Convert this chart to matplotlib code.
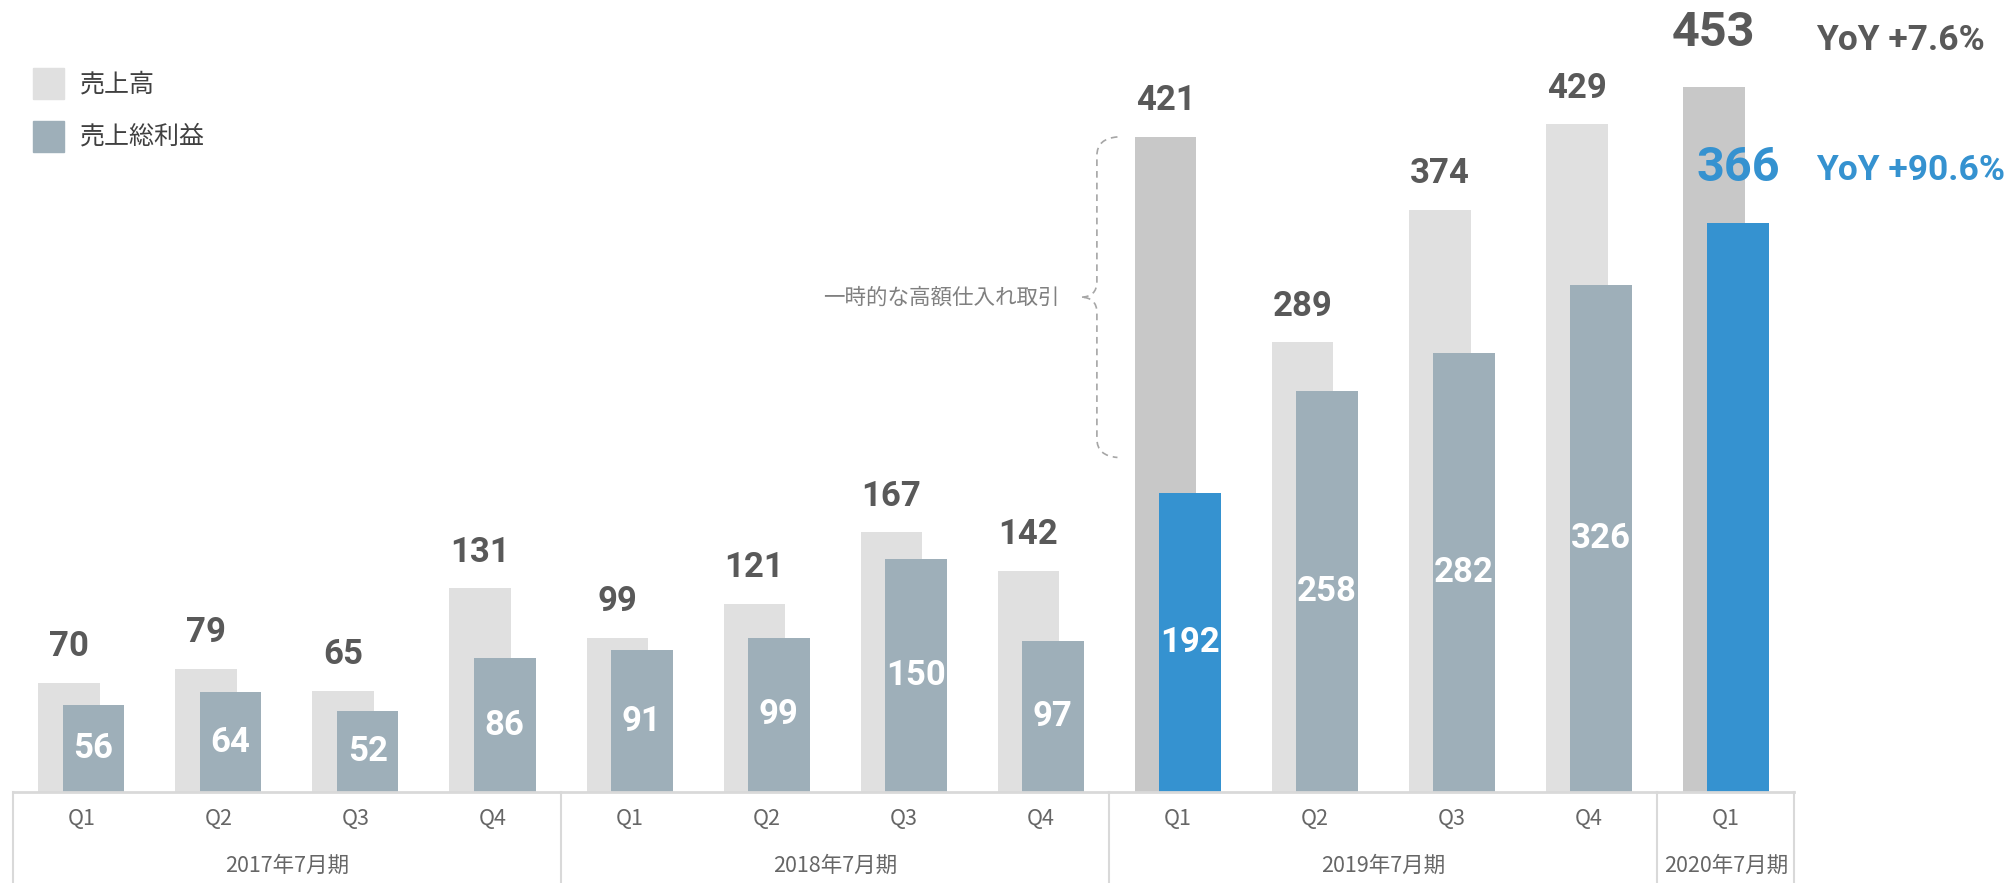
import matplotlib
matplotlib.use("Agg")
import matplotlib.pyplot as plt
from matplotlib.patches import Rectangle
from matplotlib.path import Path
from matplotlib.patches import PathPatch
from matplotlib.lines import Line2D
import matplotlib.transforms as mtransforms

plt.rcParams['font.family'] = ['Noto Sans CJK JP', 'DejaVu Sans']

quarters = ['Q1', 'Q2', 'Q3', 'Q4', 'Q1', 'Q2', 'Q3', 'Q4', 'Q1', 'Q2', 'Q3', 'Q4', 'Q1']
years = ['2017年7月期', '2018年7月期', '2019年7月期', '2020年7月期']
year_spans = [(0, 3), (4, 7), (8, 11), (12, 12)]
sales = [70, 79, 65, 131, 99, 121, 167, 142, 421, 289, 374, 429, 453]
gross = [56, 64, 52, 86, 91, 99, 150, 97, 192, 258, 282, 326, 366]
highlight = [8, 12]
yoy_sales = 'YoY +7.6%'
yoy_gross = 'YoY +90.6%'
note = '一時的な高額仕入れ取引'

W, H = 2004, 883
fig = plt.figure(figsize=(W / 100, H / 100), dpi=100)
ax = fig.add_axes([12.8 / W, 91 / H, (1794.5 - 12.8) / W, 792 / H])
ax.set_xlim(-0.5, 12.5)
ax.set_ylim(0, 792 / 1.556)
ax.axis('off')

num_font = ['Roboto', 'DejaVu Sans']
dark = '#595959'
blue = '#3592d0'

x = list(range(len(sales)))
bw = 0.45
off = 0.089
for i in x:
    c1 = '#c8c8c8' if i in highlight else '#e0e0e0'
    c2 = blue if i in highlight else '#9eafb9'
    ax.bar(i - off, sales[i], width=bw, color=c1, zorder=1)
    ax.bar(i + off, gross[i], width=bw, color=c2, zorder=2)
    if i == 12:
        ax.annotate(str(sales[i]), (i - off, sales[i]), xytext=(0, 39), textcoords='offset points',
                    ha='center', va='center', fontsize=35, fontweight='bold', color=dark, family=num_font)
        ax.annotate(str(gross[i]), (i + off, gross[i]), xytext=(0, 39), textcoords='offset points',
                    ha='center', va='center', fontsize=35, fontweight='bold', color=blue, family=num_font)
    else:
        ax.annotate(str(sales[i]), (i - off, sales[i]), xytext=(0, 26), textcoords='offset points',
                    ha='center', va='center', fontsize=25, fontweight='bold', color=dark, family=num_font)
        ax.text(i + off, gross[i] / 2, str(gross[i]), ha='center', va='center', fontsize=25,
                fontweight='bold', color='white', family=num_font, zorder=3)

# category axis box
tr = mtransforms.blended_transform_factory(ax.transData, fig.transFigure)
base_y = 91 / H
fig.add_artist(Line2D([-0.5, 12.5], [base_y, base_y], transform=tr, color='#d9d9d9', lw=2))
for xv in [-0.5, 3.5, 7.5, 11.5, 12.5]:
    fig.add_artist(Line2D([xv, xv], [0, base_y], transform=tr, color='#d9d9d9', lw=1.5))
for i, q in enumerate(quarters):
    fig.text(i, 1 - 819 / H, q, transform=tr, ha='center', va='center', fontsize=15.5, color='#666666')
for (a, b), yl in zip(year_spans, years):
    fig.text((a + b) / 2, 1 - 866 / H, yl, transform=tr, ha='center', va='center', fontsize=15.5, color='#666666')

# dashed brace for the one-off purchase
top, bot, mid = 421, 215, 318
xs, xl, xt = 7.56, 7.41, 7.29
verts = [(xs, top), (xl, top - 1), (xl, top - 12),
         (xl, mid + 10), (xl, mid), (xt, mid),
         (xl, mid), (xl, mid - 10),
         (xl, bot + 12), (xl, bot + 1), (xs, bot)]
codes = [Path.MOVETO, Path.CURVE3, Path.CURVE3,
         Path.LINETO, Path.CURVE3, Path.CURVE3,
         Path.CURVE3, Path.CURVE3,
         Path.LINETO, Path.CURVE3, Path.CURVE3]
ax.add_patch(PathPatch(Path(verts, codes), fill=False, ec='#a6a6a6', lw=1.2, ls=(0, (4, 3)), clip_on=False))
ax.text(7.14, mid, note, ha='right', va='center', fontsize=15.5, color='#808080')

# YoY notes
fig.text(1816 / W, 1 - 41 / H, yoy_sales, ha='left', va='center', fontsize=25.5, fontweight='bold',
         color=dark, family=['Roboto', 'DejaVu Sans'])
fig.text(1816 / W, 1 - 170 / H, yoy_gross, ha='left', va='center', fontsize=25.5, fontweight='bold',
         color=blue, family=['Roboto', 'DejaVu Sans'])

# legend
fig.add_artist(Rectangle((33 / W, 1 - 99 / H), 31 / W, 31 / H, transform=fig.transFigure, color='#e0e0e0'))
fig.add_artist(Rectangle((33 / W, 1 - 152 / H), 31 / W, 31 / H, transform=fig.transFigure, color='#9eafb9'))
fig.text(80 / W, 1 - 85 / H, '売上高', ha='left', va='center', fontsize=18, color='#404040')
fig.text(80 / W, 1 - 137 / H, '売上総利益', ha='left', va='center', fontsize=18, color='#404040')

fig.savefig('out.png', dpi=100)
